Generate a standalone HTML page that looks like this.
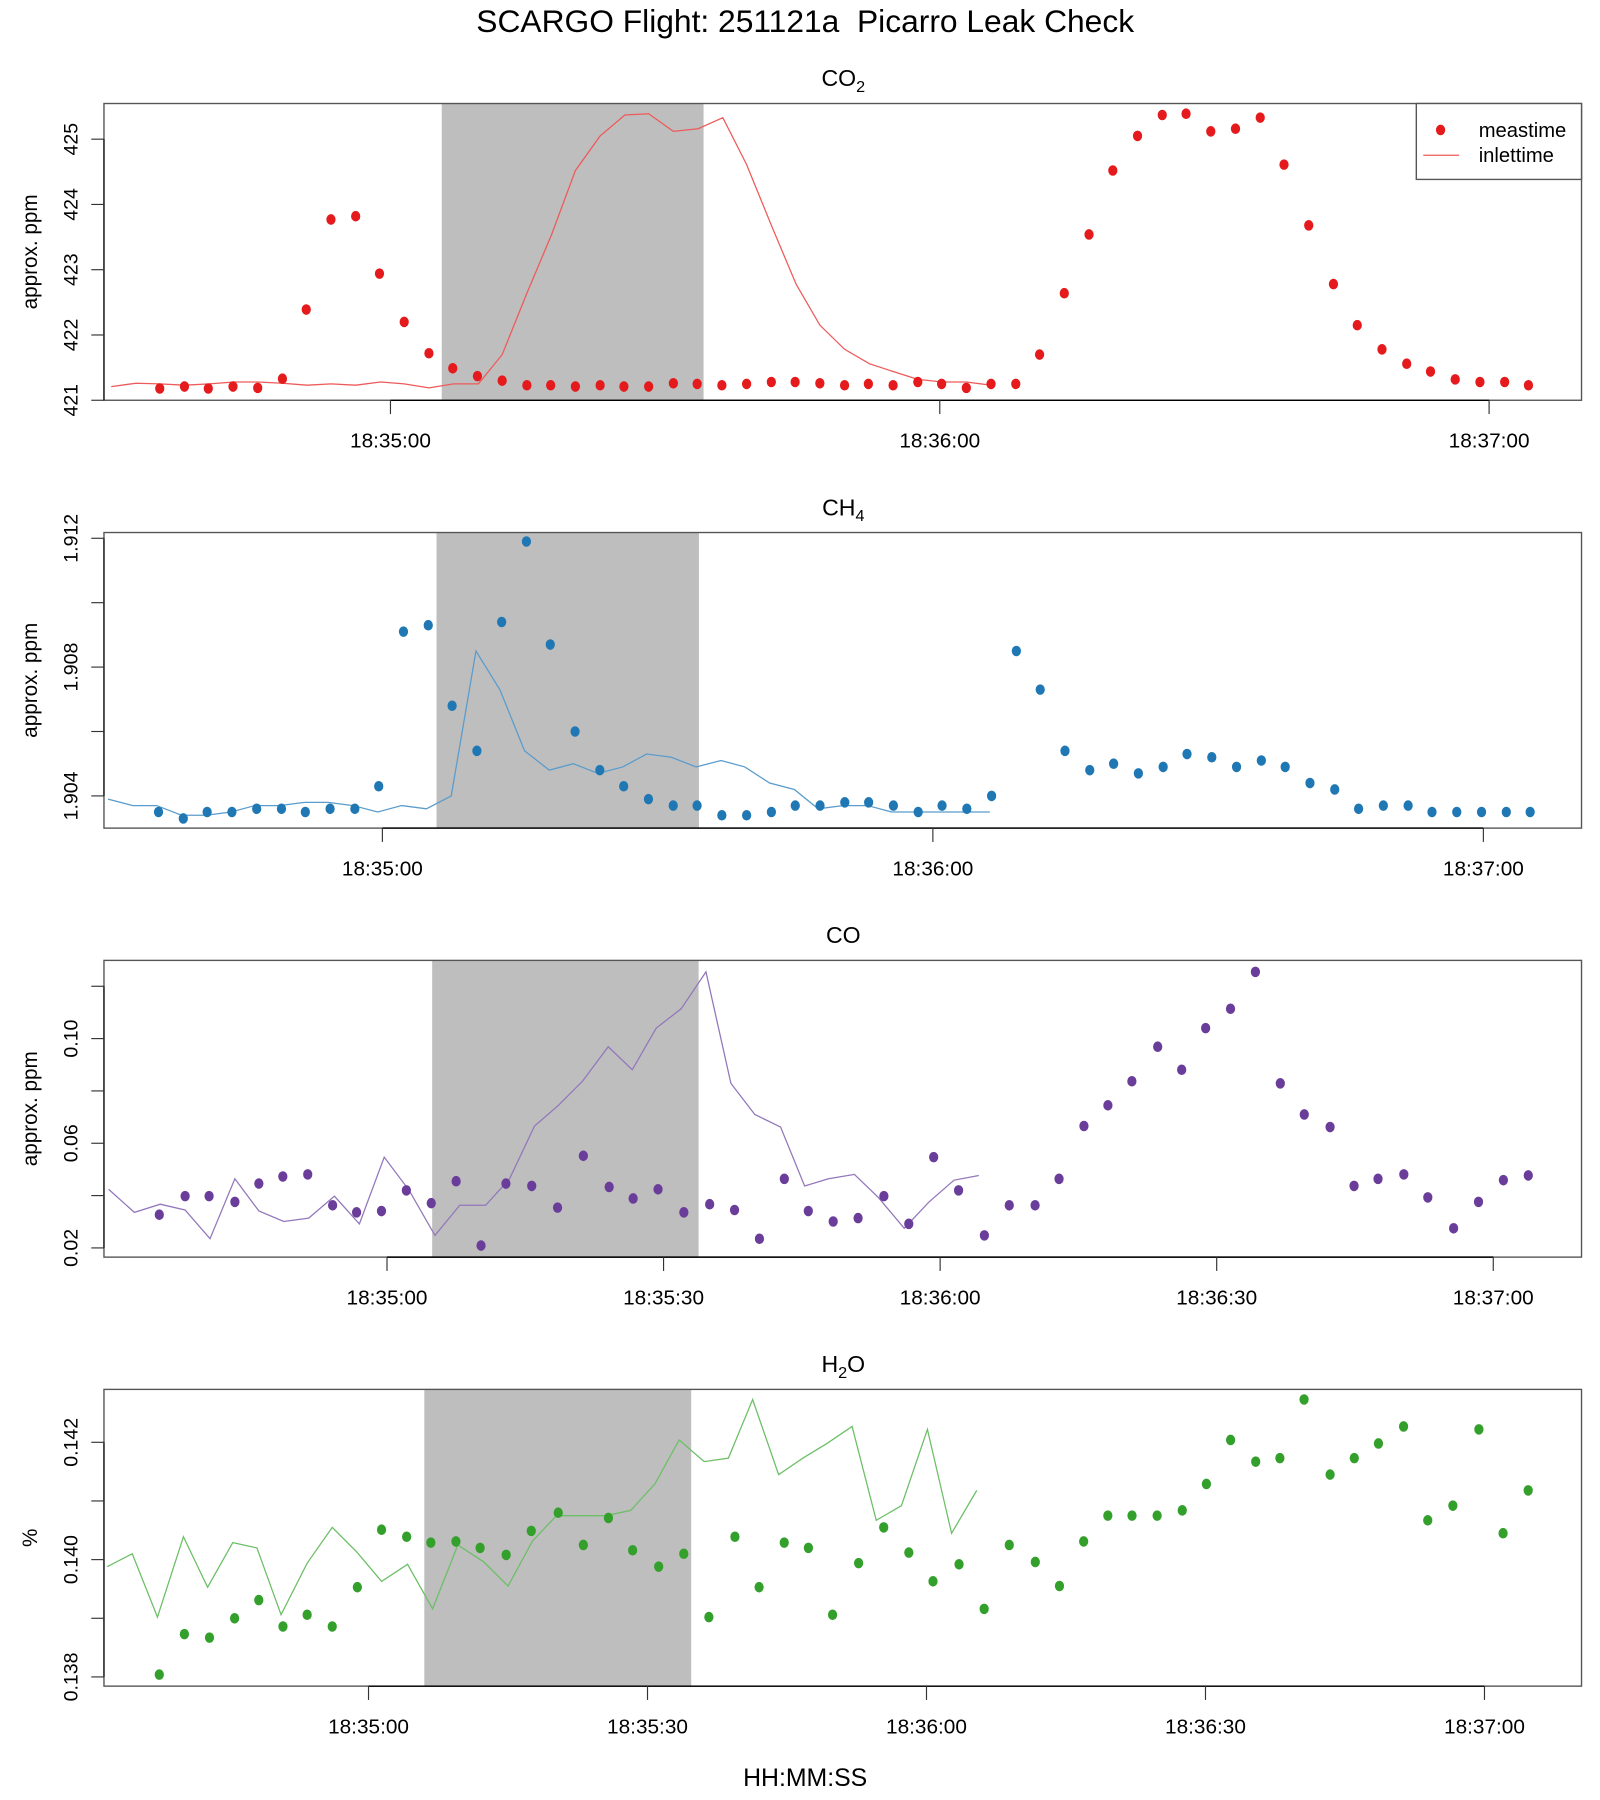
<!DOCTYPE html>
<html><head><meta charset="utf-8"><title>SCARGO Flight 251121a Picarro Leak Check</title>
<style>html,body{margin:0;padding:0;background:#fff;}svg{display:block;}</style></head>
<body>
<svg id="chart" xmlns="http://www.w3.org/2000/svg" width="1600" height="1800" viewBox="0 0 1385 1565" preserveAspectRatio="none" font-family="'Liberation Sans', Arial, sans-serif">
<rect x="0" y="0" width="1385" height="1565" fill="#fff"/>
<text x="697" y="28" font-size="27.5" text-anchor="middle" fill="#000" xml:space="preserve">SCARGO Flight: 251121a  Picarro Leak Check</text>
<text x="697" y="1553" font-size="21.5" text-anchor="middle" fill="#000">HH:MM:SS</text>
</svg>
<script>
// ---- data (time = seconds after 18:34:00) ----
const co2Times=[34.8,37.5,40.1,42.8,45.5,48.2,50.8,53.5,56.2,58.8,61.5,64.2,66.8,69.5,72.2,74.9,77.5,80.2,82.9,85.5,88.2,90.9,93.5,96.2,98.9,101.6,104.2,106.9,109.6,112.2,114.9,117.6,120.2,122.9,125.6,128.3,130.9,133.6,136.3,138.9,141.6,144.3,146.9,149.6,152.3,155.0,157.6,160.3,163.0,165.6,168.3,171.0,173.6,176.3,179.0,181.7,184.3];
const co2Meas=[421.18,421.21,421.18,421.21,421.19,421.33,422.39,423.77,423.82,422.94,422.20,421.72,421.49,421.37,421.30,421.23,421.23,421.21,421.23,421.21,421.21,421.26,421.25,421.23,421.25,421.28,421.28,421.26,421.23,421.25,421.23,421.28,421.25,421.19,421.25,421.25,421.70,422.64,423.54,424.52,425.05,425.37,425.39,425.12,425.16,425.33,424.61,423.68,422.78,422.15,421.78,421.56,421.44,421.32,421.28,421.28,421.23];
const co2InletTimes=[29.5,32.2,34.8,37.5,40.2,42.9,45.5,48.2,50.9,53.5,56.2,58.9,61.5,64.2,66.9,69.6,72.2,74.9,77.6,80.2,82.9,85.6,88.2,90.9,93.6,96.3,98.9,101.6,104.3,106.9,109.6,112.3,114.9,117.6,120.3,122.9,125.6];
const co2Inlet=[421.21,421.26,421.25,421.23,421.25,421.28,421.28,421.26,421.23,421.25,421.23,421.28,421.25,421.19,421.25,421.25,421.70,422.64,423.54,424.52,425.05,425.37,425.39,425.12,425.16,425.33,424.61,423.68,422.78,422.15,421.78,421.56,421.44,421.32,421.28,421.28,421.23];
const co2YTicks=[421,422,423,424,425];
const co2YLabels=['421','422','423','424','425'];
const co2XTicks=[60,120,180];
const co2XLabels=['18:35:00','18:36:00','18:37:00'];
const co2Shade=[65.6,94.2];

const ch4Times=[35.6,38.3,40.9,43.6,46.3,49.0,51.6,54.3,57.0,59.6,62.3,65.0,67.6,70.3,73.0,75.7,78.3,81.0,83.7,86.3,89.0,91.7,94.3,97.0,99.7,102.4,105.0,107.7,110.4,113.0,115.7,118.4,121.0,123.7,126.4,129.1,131.7,134.4,137.1,139.7,142.4,145.1,147.7,150.4,153.1,155.8,158.4,161.1,163.8,166.4,169.1,171.8,174.4,177.1,179.8,182.5,185.1];
const ch4Meas=[1.9035,1.9033,1.9035,1.9035,1.9036,1.9036,1.9035,1.9036,1.9036,1.9043,1.9091,1.9093,1.9068,1.9054,1.9094,1.9119,1.9087,1.9060,1.9048,1.9043,1.9039,1.9037,1.9037,1.9034,1.9034,1.9035,1.9037,1.9037,1.9038,1.9038,1.9037,1.9035,1.9037,1.9036,1.9040,1.9085,1.9073,1.9054,1.9048,1.9050,1.9047,1.9049,1.9053,1.9052,1.9049,1.9051,1.9049,1.9044,1.9042,1.9036,1.9037,1.9037,1.9035,1.9035,1.9035,1.9035,1.9035];
const ch4InletTimes=[30.1,32.8,35.4,38.1,40.8,43.5,46.1,48.8,51.5,54.1,56.8,59.5,62.1,64.8,67.5,70.2,72.8,75.5,78.2,80.8,83.5,86.2,88.8,91.5,94.2,96.9,99.5,102.2,104.9,107.5,110.2,112.9,115.5,118.2,120.9,123.6,126.2];
const ch4Inlet=[1.9039,1.9037,1.9037,1.9034,1.9034,1.9035,1.9037,1.9037,1.9038,1.9038,1.9037,1.9035,1.9037,1.9036,1.9040,1.9085,1.9073,1.9054,1.9048,1.9050,1.9047,1.9049,1.9053,1.9052,1.9049,1.9051,1.9049,1.9044,1.9042,1.9036,1.9037,1.9037,1.9035,1.9035,1.9035,1.9035,1.9035];
const ch4YTicks=[1.904,1.906,1.908,1.910,1.912];
const ch4YLabels=['1.904','','1.908','','1.912'];
const ch4XTicks=[60,120,180];
const ch4XLabels=['18:35:00','18:36:00','18:37:00'];
const ch4Shade=[65.9,94.5];

const coTimes=[35.3,38.1,40.7,43.5,46.1,48.7,51.4,54.1,56.7,59.4,62.1,64.8,67.5,70.2,72.9,75.7,78.5,81.3,84.1,86.7,89.4,92.2,95.0,97.7,100.4,103.1,105.7,108.4,111.1,113.9,116.6,119.3,122.0,124.8,127.5,130.3,132.9,135.6,138.2,140.8,143.6,146.2,148.8,151.5,154.2,156.9,159.5,162.3,164.9,167.5,170.3,172.9,175.7,178.4,181.1,183.8];
const coMeas=[0.0327,0.0398,0.0398,0.0376,0.0446,0.0473,0.0481,0.0363,0.0336,0.0341,0.0420,0.0371,0.0455,0.0209,0.0446,0.0437,0.0354,0.0552,0.0433,0.0389,0.0424,0.0336,0.0367,0.0345,0.0235,0.0464,0.0341,0.0301,0.0314,0.0398,0.0292,0.0547,0.0420,0.0248,0.0363,0.0363,0.0464,0.0666,0.0745,0.0837,0.0969,0.0881,0.1040,0.1114,0.1255,0.0829,0.0710,0.0662,0.0437,0.0464,0.0481,0.0393,0.0275,0.0376,0.0459,0.0477];
const coInletTimes=[29.8,32.6,35.4,38.1,40.8,43.5,46.1,48.8,51.5,54.3,57.0,59.7,62.4,65.2,67.9,70.7,73.3,76.0,78.6,81.2,84.0,86.6,89.2,91.9,94.6,97.3,99.9,102.7,105.3,107.9,110.7,113.3,116.1,118.8,121.5,124.2];
const coInlet=[0.0424,0.0336,0.0367,0.0345,0.0235,0.0464,0.0341,0.0301,0.0314,0.0398,0.0292,0.0547,0.0420,0.0248,0.0363,0.0363,0.0464,0.0666,0.0745,0.0837,0.0969,0.0881,0.1040,0.1114,0.1255,0.0829,0.0710,0.0662,0.0437,0.0464,0.0481,0.0393,0.0275,0.0376,0.0459,0.0477];
const coYTicks=[0.02,0.04,0.06,0.08,0.10,0.12];
const coYLabels=['0.02','','0.06','','0.10',''];
const coXTicks=[60,90,120,150,180];
const coXLabels=['18:35:00','18:35:30','18:36:00','18:36:30','18:37:00'];
const coShade=[64.9,93.8];

const h2oTimes=[37.5,40.2,42.9,45.6,48.2,50.8,53.4,56.1,58.8,61.4,64.1,66.7,69.4,72.0,74.8,77.5,80.4,83.1,85.8,88.4,91.2,93.9,96.6,99.4,102.0,104.7,107.3,109.9,112.7,115.4,118.1,120.7,123.5,126.2,128.9,131.7,134.3,136.9,139.5,142.1,144.8,147.5,150.1,152.7,155.4,158.0,160.6,163.4,166.0,168.6,171.3,173.9,176.6,179.4,182.0,184.7];
const h2oMeas=[0.13804,0.13873,0.13867,0.13900,0.13931,0.13886,0.13906,0.13886,0.13953,0.14051,0.14039,0.14029,0.14031,0.14020,0.14008,0.14049,0.14080,0.14025,0.14071,0.14016,0.13988,0.14010,0.13902,0.14039,0.13953,0.14029,0.14020,0.13906,0.13994,0.14055,0.14012,0.13963,0.13992,0.13916,0.14025,0.13996,0.13955,0.14031,0.14075,0.14075,0.14075,0.14084,0.14129,0.14204,0.14167,0.14173,0.14273,0.14145,0.14173,0.14198,0.14227,0.14067,0.14092,0.14222,0.14045,0.14118];
const h2oInletTimes=[31.9,34.6,37.3,40.1,42.7,45.4,48.0,50.6,53.4,56.1,58.8,61.4,64.2,66.9,69.6,72.4,75.0,77.6,80.2,82.8,85.5,88.2,90.8,93.4,96.1,98.7,101.3,104.1,106.7,109.3,112.0,114.6,117.3,120.1,122.7,125.4];
const h2oInlet=[0.13988,0.14010,0.13902,0.14039,0.13953,0.14029,0.14020,0.13906,0.13994,0.14055,0.14012,0.13963,0.13992,0.13916,0.14025,0.13996,0.13955,0.14031,0.14075,0.14075,0.14075,0.14084,0.14129,0.14204,0.14167,0.14173,0.14273,0.14145,0.14173,0.14198,0.14227,0.14067,0.14092,0.14222,0.14045,0.14118];
const h2oYTicks=[0.138,0.139,0.140,0.141,0.142];
const h2oYLabels=['0.138','','0.140','','0.142'];
const h2oXTicks=[60,90,120,150,180];
const h2oXLabels=['18:35:00','18:35:30','18:36:00','18:36:30','18:37:00'];
const h2oShade=[66.0,94.7];

// ---- layout (pixel geometry, not data) ----
const NS='http://www.w3.org/2000/svg';
const svg=document.getElementById('chart');
function mk(tag,attrs,parent){const e=document.createElementNS(NS,tag);for(const k in attrs)e.setAttribute(k,attrs[k]);(parent||svg).appendChild(e);return e;}

const panels=[
 {key:'co2',box:[90,1369,90,348],xRef:338,xs:7.925,vRef:421,yRef:348,ys:56.75,color:'#e41a1c',line:'#ee5a5a',
  times:co2Times,vals:co2Meas,it:co2InletTimes,iv:co2Inlet,yt:co2YTicks,yl:co2YLabels,xt:co2XTicks,xl:co2XLabels,shade:co2Shade,title:['CO','2'],ytitle:'approx. ppm',legend:true},
 {key:'ch4',box:[90,1369,463,720],xRef:331,xs:7.942,vRef:1.904,yRef:692,ys:28000,color:'#1f78b4',line:'#5a9ccc',
  times:ch4Times,vals:ch4Meas,it:ch4InletTimes,iv:ch4Inlet,yt:ch4YTicks,yl:ch4YLabels,xt:ch4XTicks,xl:ch4XLabels,shade:ch4Shade,title:['CH','4'],ytitle:'approx. ppm'},
 {key:'co',box:[90,1369,835,1093],xRef:335,xs:7.98,vRef:0.02,yRef:1085,ys:2275,color:'#6a3d9a',line:'#9377bb',
  times:coTimes,vals:coMeas,it:coInletTimes,iv:coInlet,yt:coYTicks,yl:coYLabels,xt:coXTicks,xl:coXLabels,shade:coShade,title:['CO',''],ytitle:'approx. ppm'},
 {key:'h2o',box:[90,1369,1208,1466],xRef:319,xs:8.05,vRef:0.138,yRef:1458,ys:51000,color:'#33a02c',line:'#6cbf66',
  times:h2oTimes,vals:h2oMeas,it:h2oInletTimes,iv:h2oInlet,yt:h2oYTicks,yl:h2oYLabels,xt:h2oXTicks,xl:h2oXLabels,shade:h2oShade,title:['H','2','O'],ytitle:'%'}
];

panels.forEach(p=>{
 const [L,R,T,B]=p.box;
 const X=t=>p.xRef+(t-60)*p.xs;
 const Y=v=>p.yRef-(v-p.vRef)*p.ys;
 const g=mk('g',{});
 
 
 const cp=mk('clipPath',{id:'clip-'+p.key},g);
 mk('rect',{x:L,y:T,width:R-L,height:B-T},cp);
 const sh=mk('rect',{x:X(p.shade[0]),y:T,width:X(p.shade[1])-X(p.shade[0]),height:B-T,fill:'#bebebe'},g);
 
 
 const pts=p.it.map((t,i)=>X(t).toFixed(1)+','+Y(p.iv[i]).toFixed(1)).join(' ');
 const pl=mk('polyline',{points:pts,fill:'none',stroke:p.line,'stroke-width':1.1,'clip-path':'url(#clip-'+p.key+')'},g);
 
 
 p.times.forEach((t,i)=>{
  const c=mk('ellipse',{cx:X(t),cy:Y(p.vals[i]),rx:4,ry:4.6,fill:p.color},g);
  
  
 });
 const bx=mk('rect',{x:L,y:T,width:R-L,height:B-T,fill:'none',stroke:'#555','stroke-width':1.2},g);
 
 
 const ya=mk('line',{x1:L,x2:L,y1:Y(p.yt[0]),y2:Y(p.yt[p.yt.length-1]),stroke:'#000','stroke-width':1},g);
 
 
 p.yt.forEach((v,i)=>{
  const y=Y(v);
  const tk=mk('line',{x1:L-11,x2:L,y1:y,y2:y,stroke:'#333','stroke-width':1},g);
  
  
  if(p.yl[i]){
   const tx=mk('text',{x:0,y:0,'font-size':17,'text-anchor':'middle',transform:'translate(67,'+y+') rotate(-90)'},g);
   tx.textContent=p.yl[i];
   
   
  }
 });
 const yt=mk('text',{x:0,y:0,'font-size':18,'text-anchor':'middle',transform:'translate(32,'+((T+B)/2)+') rotate(-90)'},g);
 yt.textContent=p.ytitle;
 
 
 const xa=mk('line',{x1:X(p.xt[0]),x2:X(p.xt[p.xt.length-1]),y1:B,y2:B,stroke:'#000','stroke-width':1.2},g);
 
 
 p.xt.forEach((t,i)=>{
  const x=X(t);
  const tk=mk('line',{x1:x,x2:x,y1:B,y2:B+12,stroke:'#333','stroke-width':1},g);
  
  
  const tx=mk('text',{x:x,y:B+41,'font-size':18,'text-anchor':'middle'},g);
  tx.textContent=p.xl[i];
  
  
 });
 const tt=mk('text',{x:730,y:T-15,'font-size':20,'text-anchor':'middle'},g);
 
 
 tt.appendChild(document.createTextNode(p.title[0]));
 if(p.title[1]){const s=mk('tspan',{'font-size':14,dy:5},tt);s.textContent=p.title[1];}
 if(p.title[2]){const s=mk('tspan',{'font-size':20,dy:-5},tt);s.textContent=p.title[2];}
 if(p.legend){
  const lg=mk('g',{},g);
  
  
  mk('rect',{x:1226,y:90,width:143,height:66,fill:'#fff',stroke:'#555','stroke-width':1.2},lg);
  const d=mk('ellipse',{cx:1247,cy:113,rx:4,ry:4.6,fill:p.color},lg);
  
  
  const t1=mk('text',{x:1280,y:119,'font-size':17.5},lg);
  t1.textContent='meastime';
  
  
  const ln=mk('line',{x1:1232,x2:1263,y1:135,y2:135,stroke:p.line,'stroke-width':1.1},lg);
  
  
  const t2=mk('text',{x:1280,y:141,'font-size':17.5},lg);
  t2.textContent='inlettime';
  
  
 }
});
</script>
</body></html>
